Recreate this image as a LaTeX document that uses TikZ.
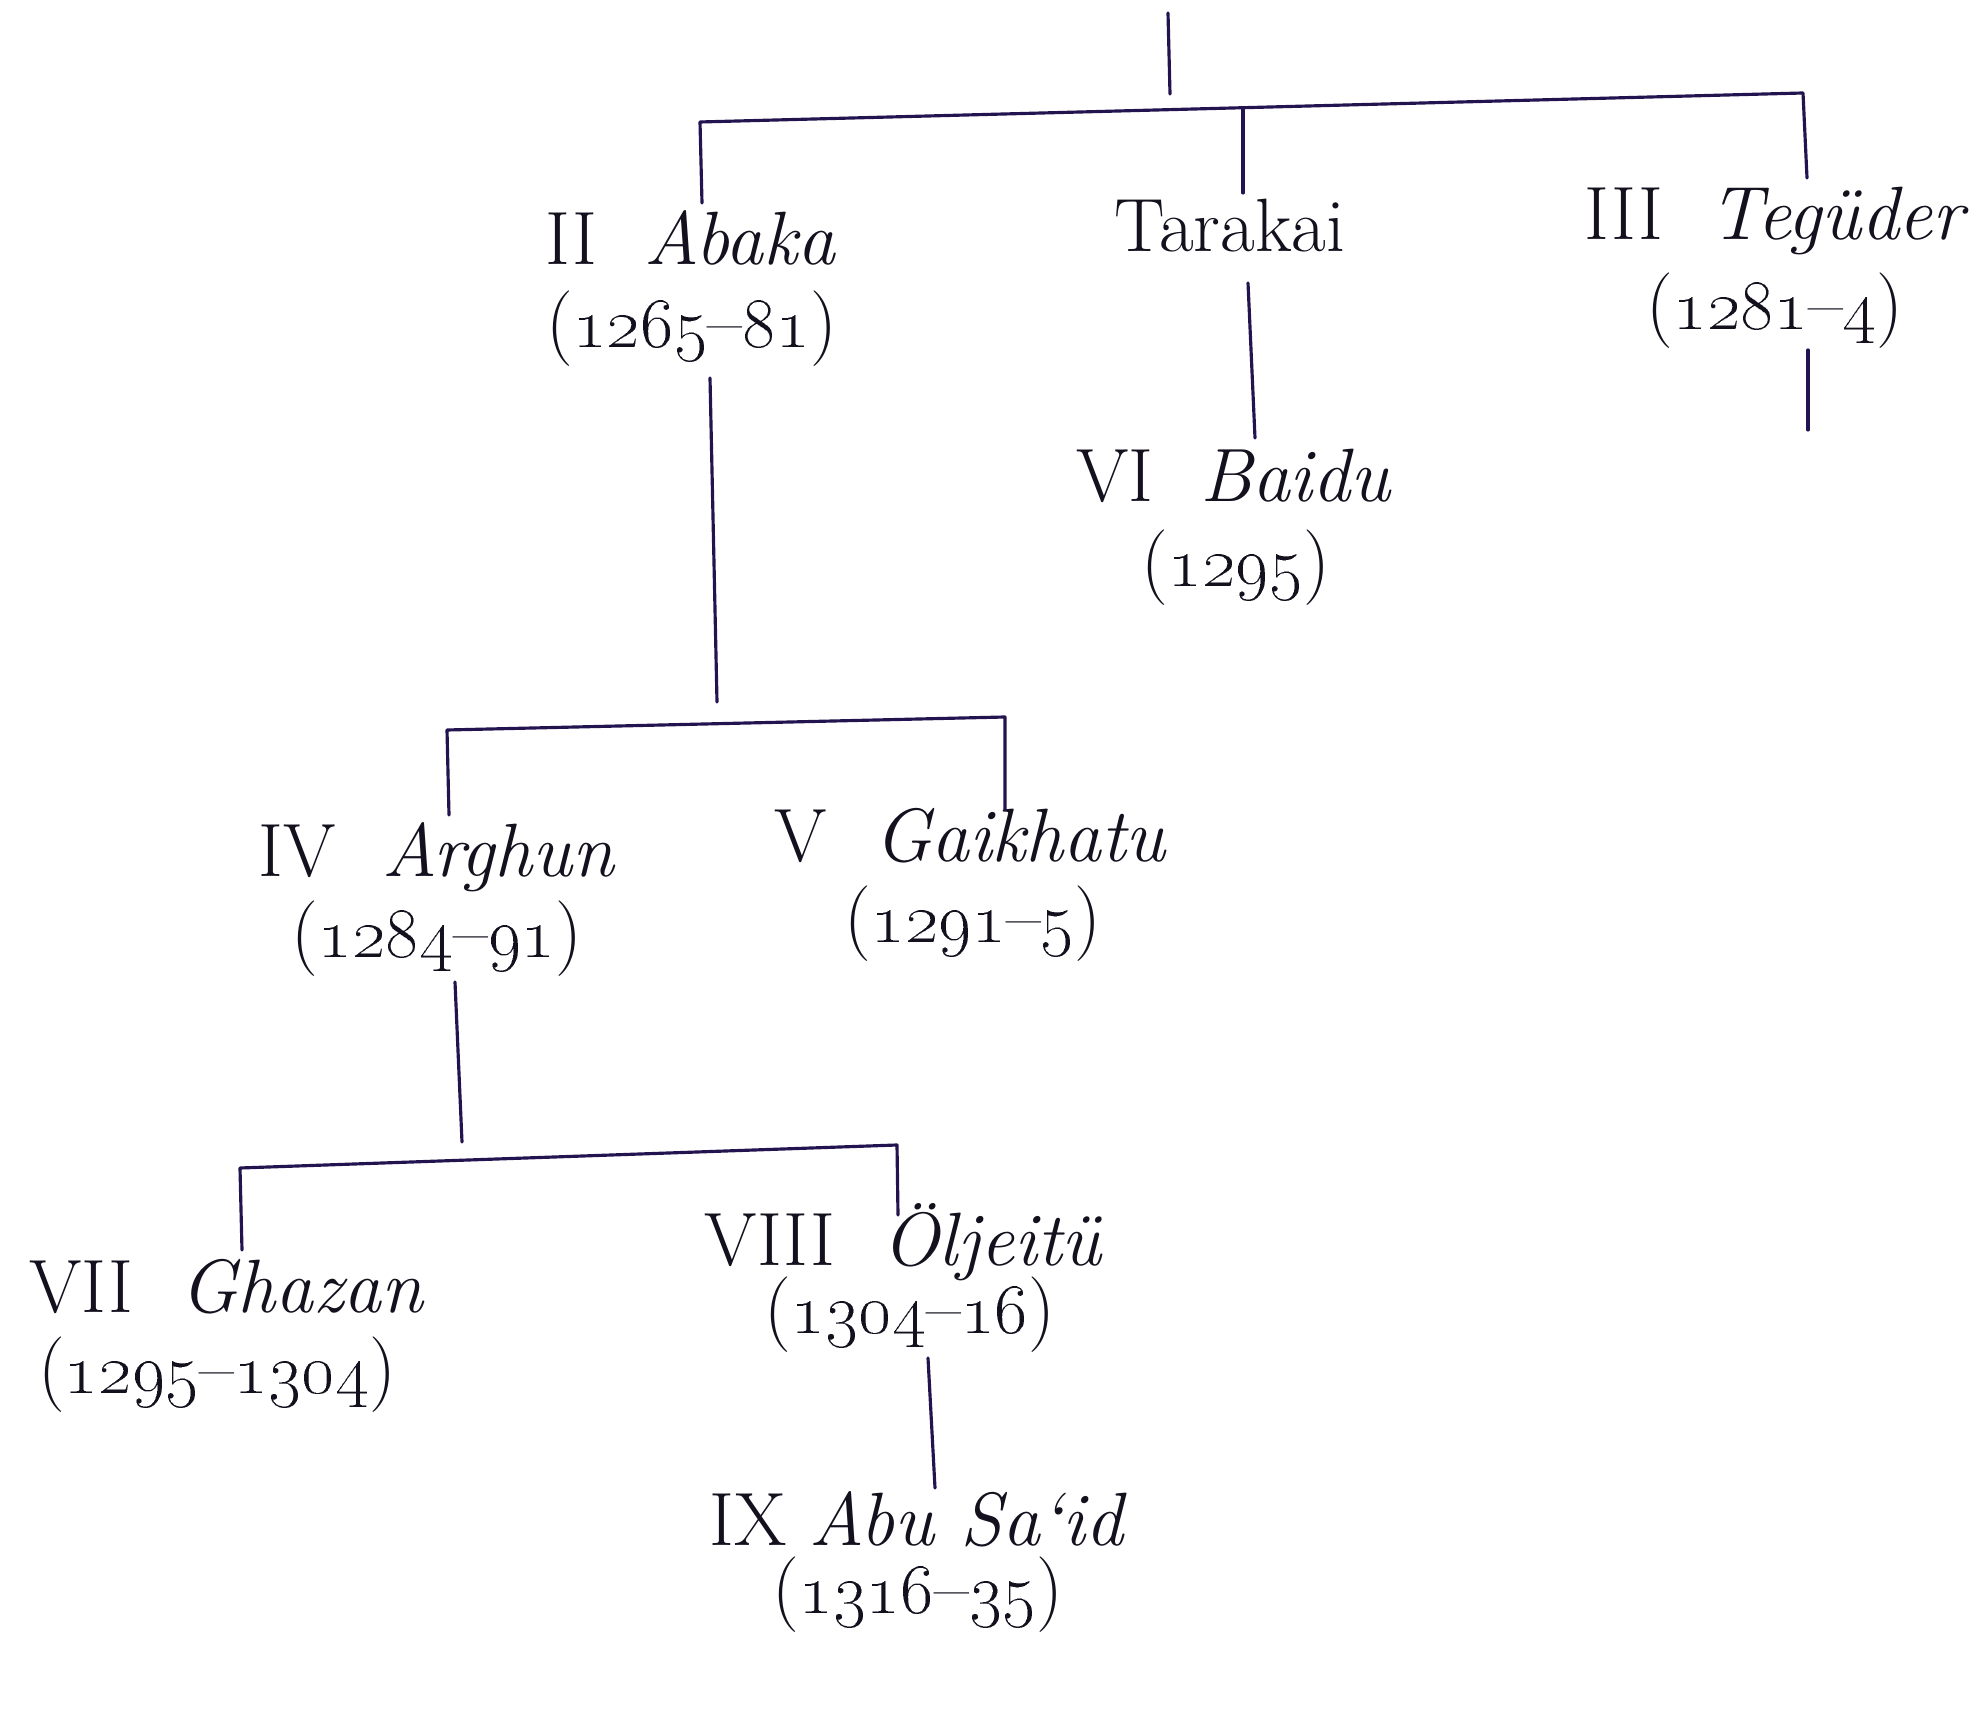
\documentclass[tikz,border=0pt]{standalone}
\usepackage{tikz}
\definecolor{linecol}{RGB}{35,20,80}
\definecolor{txtcol}{RGB}{20,16,30}
\newcommand\yr[1]{\oldstylenums{#1}}
\newcommand\gp{\hspace{0.62em}}
\begin{document}
\begin{tikzpicture}[x=1cm,y=1cm,
  nm/.style={inner sep=0pt, anchor=base, text=txtcol, font=\fontsize{21.5}{26}\selectfont},
  conn/.style={draw=linecol, line width=0.9pt, line cap=round, line join=round}]
\useasboundingbox[fill=white] (0,0) rectangle (19.83,-17.30);

% ---- names and reigns ----
\node[nm] (abaka)   at (6.91,-2.65)  {II\gp\textit{Abaka}};
\node[nm] (abakaD)  at (6.915,-3.48) {(\yr{1265}–\yr{81})};
\node[nm] (tarakai) at (12.30,-2.52) {Tarakai};
\node[nm] (tegu)    at (17.77,-2.40) {III\gp\textit{Tegüder}};
\node[nm] (teguD)   at (17.75,-3.30) {(\yr{1281}–\yr{4})};
\node[nm] (baidu)   at (12.34,-5.02) {VI\gp\textit{Baidu}};
\node[nm] (baiduD)  at (12.36,-5.87) {(\yr{1295})};
\node[nm] (arghun)  at (4.37,-8.77)  {IV\gp\textit{Arghun}};
\node[nm] (arghunD) at (4.37,-9.58)  {(\yr{1284}–\yr{91})};
\node[nm] (gaik)    at (9.71,-8.62)  {V\gp\textit{Gaikhatu}};
\node[nm] (gaikD)   at (9.73,-9.43)  {(\yr{1291}–\yr{5})};
\node[nm] (ghazan)  at (2.27,-13.12) {VII\gp\textit{Ghazan}};
\node[nm] (ghazanD) at (2.17,-13.93) {(\yr{1295}–\yr{1304})};
\node[nm] (olj)     at (9.04,-12.65) {VIII\gp\textit{Öljeitü}};
\node[nm] (oljD)    at (9.10,-13.33) {(\yr{1304}–\yr{16})};
\node[nm] (abu)     at (9.18,-15.45) {IX \textit{Abu Sa‘id}};
\node[nm] (abuD)    at (9.18,-16.13) {(\yr{1316}–\yr{35})};

% ---- connector end points ----
\coordinate (parent)  at (11.68,-0.13);
\coordinate (j0)      at (11.70,-0.94);
\coordinate (h1l)     at (7.00,-1.22);
\coordinate (h1m)     at (12.43,-1.08);
\coordinate (h1r)     at (18.03,-0.93);
\coordinate (abakaT)  at (7.02,-2.03);
\coordinate (tarakaiT) at (12.43,-1.93);
\coordinate (teguT)   at (18.07,-1.78);
\coordinate (abakaB)  at (7.10,-3.78);
\coordinate (abakaE)  at (7.17,-7.02);
\coordinate (tarakaiB) at (12.48,-2.83);
\coordinate (baiduT)  at (12.55,-4.38);
\coordinate (teguB)   at (18.08,-3.50);
\coordinate (teguE)   at (18.08,-4.30);
\coordinate (h2l)     at (4.47,-7.30);
\coordinate (h2r)     at (10.05,-7.17);
\coordinate (arghunT) at (4.49,-8.15);
\coordinate (gaikT)   at (10.05,-8.10);
\coordinate (arghunB) at (4.55,-9.82);
\coordinate (arghunE) at (4.62,-11.42);
\coordinate (h3l)     at (2.40,-11.68);
\coordinate (h3r)     at (8.97,-11.45);
\coordinate (ghazanT) at (2.42,-12.50);
\coordinate (oljT)    at (8.98,-12.15);
\coordinate (oljB)    at (9.28,-13.58);
\coordinate (abuT)    at (9.35,-14.88);

% ---- connectors ----
\draw[conn] (parent) -- (j0);
\draw[conn] (abakaT) -- (h1l) -- (h1r) -- (teguT);
\draw[conn] (h1m) -- (tarakaiT);
\draw[conn] (abakaB) -- (abakaE);
\draw[conn] (tarakaiB) -- (baiduT);
\draw[conn] (teguB) -- (teguE);
\draw[conn] (arghunT) -- (h2l) -- (h2r) -- (gaikT);
\draw[conn] (arghunB) -- (arghunE);
\draw[conn] (ghazanT) -- (h3l) -- (h3r) -- (oljT);
\draw[conn] (oljB) -- (abuT);
\end{tikzpicture}
\end{document}
